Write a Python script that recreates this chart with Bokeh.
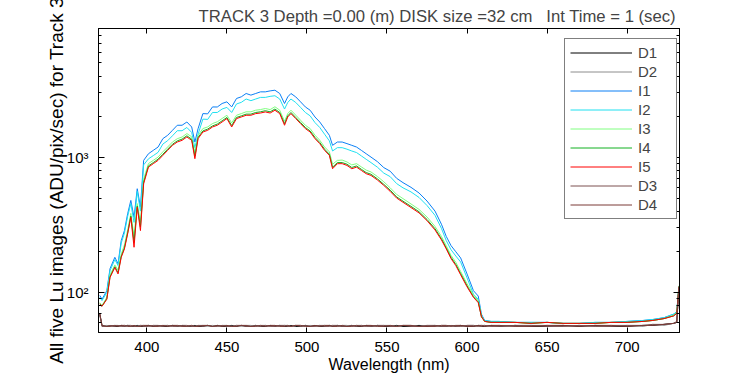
from bokeh.plotting import figure
from bokeh.models import LinearAxis, LogAxis, FixedTicker, Legend, LegendItem, Title
from bokeh.embed import file_html
from bokeh.resources import INLINE

# ---------------- data ----------------
wavelength = [370.6, 372, 375, 377, 380, 382, 384, 386, 388, 390,
              392, 394, 396, 398, 401, 404, 407, 410, 413, 416,
              419, 422, 425, 428, 430, 432, 435, 438, 441, 444,
              447, 450, 453, 456, 459, 462, 465, 468, 471, 474,
              477, 480, 483, 486, 488, 490, 493, 496, 499, 502,
              505, 508, 511, 514, 516, 519, 522, 525, 528, 531,
              534, 537, 540, 544, 548, 552, 556, 560, 565, 570,
              575, 580, 584, 587, 590, 593, 596, 600, 604, 607,
              609, 611, 615, 620, 630, 640, 650, 660, 670, 680,
              690, 700, 710, 716, 723, 729, 731, 732.3]

I1 = [95, 89, 103, 150, 182, 163, 242, 287, 382, 480,
      360, 586, 428, 950, 1064, 1127, 1192, 1376, 1457, 1586,
      1729, 1729, 1828, 1679, 1299, 1633, 2109, 2100, 2363, 2360,
      2506, 2578, 2363, 2730, 2808, 2972, 2890, 2972, 3056, 3056,
      3107, 3143, 2972, 2506, 2805, 2972, 2805, 2578, 2363, 2233,
      1991, 1828, 1633, 1457, 1228, 1299, 1299, 1264, 1228, 1192,
      1127, 1064, 1005, 930, 840, 790, 700, 650, 600, 545,
      475, 400, 320, 260, 222, 200, 180, 137, 103, 94,
      69, 62, 61, 61, 60, 60, 60, 59, 59, 60,
      60, 61, 62, 63, 65, 69, 72, 110]

I2 = [92, 87, 100, 145, 175, 158, 232, 275, 365, 455,
      330, 560, 400, 880, 975, 1030, 1090, 1255, 1330, 1445,
      1575, 1575, 1665, 1530, 1180, 1485, 1920, 1910, 2150, 2150,
      2280, 2345, 2150, 2485, 2555, 2705, 2630, 2705, 2780, 2780,
      2830, 2860, 2705, 2280, 2550, 2705, 2550, 2345, 2150, 2030,
      1810, 1665, 1485, 1325, 1115, 1180, 1180, 1150, 1115, 1085,
      1025, 968, 915, 846, 765, 720, 640, 595, 555, 505,
      440, 372, 298, 242, 207, 186, 168, 128, 97, 89,
      67, 62, 61, 61, 60, 60, 60, 59, 59, 60,
      60, 61, 62, 63, 65, 69, 72, 108]

I3 = [84, 80, 92, 135, 160, 146, 192, 225, 290, 385,
      260, 455, 330, 690, 900, 950, 1005, 1100, 1195, 1300,
      1375, 1415, 1500, 1420, 1080, 1455, 1635, 1680, 1780, 1835,
      1940, 2050, 1800, 2050, 2110, 2175, 2175, 2235, 2260, 2300,
      2260, 2370, 2235, 1850, 2110, 2235, 2055, 1885, 1730, 1635,
      1460, 1340, 1195, 1100, 890, 950, 955, 925, 880, 898,
      850, 805, 780, 722, 660, 595, 532, 495, 452, 412,
      362, 308, 260, 222, 188, 167, 143, 116, 96, 87,
      67, 61, 60, 60, 60, 59, 60, 59, 59, 59,
      60, 60, 61, 62, 64, 68, 71, 112]

I4 = [82, 79, 90, 131, 155, 140, 185, 214, 276, 368,
      235, 437, 305, 655, 865, 915, 970, 1055, 1150, 1250,
      1325, 1365, 1445, 1365, 1020, 1405, 1570, 1620, 1710, 1765,
      1865, 1975, 1720, 1975, 2030, 2090, 2090, 2150, 2175, 2215,
      2175, 2280, 2150, 1775, 2030, 2150, 1975, 1815, 1665, 1570,
      1405, 1290, 1150, 1055, 845, 915, 915, 890, 842, 864,
      816, 772, 750, 694, 632, 572, 510, 474, 434, 396,
      347, 296, 250, 214, 182, 161, 138, 112, 93, 85,
      66, 61, 60, 60, 60, 59, 60, 59, 59, 59,
      60, 60, 61, 62, 64, 67, 70, 110]

I5 = [82, 79, 89, 129, 153, 137, 182, 210, 271, 360,
      216, 428, 287, 638, 847, 898, 950, 1035, 1127, 1228,
      1299, 1337, 1416, 1337, 978, 1376, 1541, 1586, 1679, 1729,
      1828, 1937, 1679, 1937, 1991, 2050, 2050, 2109, 2130, 2170,
      2130, 2233, 2109, 1729, 1991, 2109, 1937, 1778, 1633, 1541,
      1376, 1264, 1127, 1035, 824, 898, 898, 872, 824, 847,
      800, 757, 735, 680, 620, 560, 500, 465, 425, 388,
      340, 290, 245, 210, 178, 158, 135, 110, 92, 84,
      66, 61, 60, 60, 60, 59, 60, 59, 59, 59,
      60, 60, 61, 62, 64, 67, 70, 108]

D1 = [69, 57, 56, 57, 56, 56, 57, 56, 57, 56,
      56, 57, 56, 56, 57, 56, 57, 56, 56, 57,
      56, 57, 56, 56, 57, 56, 56, 57, 56, 57,
      56, 56, 57, 56, 57, 56, 56, 57, 56, 56,
      57, 56, 57, 56, 56, 57, 56, 56, 57, 56,
      57, 56, 56, 57, 56, 57, 56, 56, 57, 56,
      56, 57, 56, 57, 56, 56, 57, 56, 56, 57,
      56, 57, 56, 56, 57, 56, 57, 56, 56, 57,
      56, 56, 57, 56, 57, 56, 56, 57, 56, 57,
      56, 56, 57, 57, 58, 59, 60, 109]

D2 = [68, 56, 57, 56, 57, 57, 56, 57, 56, 56,
      57, 56, 57, 57, 56, 57, 56, 57, 57, 56,
      57, 56, 56, 57, 56, 57, 57, 56, 57, 56,
      57, 57, 56, 57, 56, 57, 57, 56, 57, 57,
      56, 57, 56, 57, 57, 56, 57, 57, 56, 57,
      56, 57, 57, 56, 57, 56, 57, 57, 56, 57,
      57, 56, 57, 56, 57, 57, 56, 57, 57, 56,
      57, 56, 57, 57, 56, 57, 56, 57, 57, 56,
      57, 57, 56, 57, 56, 57, 57, 56, 57, 56,
      57, 57, 56, 58, 57, 59, 60, 108]

D3 = [69, 56, 56, 57, 56, 57, 56, 56, 57, 57,
      56, 56, 57, 56, 56, 57, 57, 56, 57, 56,
      56, 57, 57, 56, 56, 57, 56, 57, 56, 56,
      57, 56, 56, 57, 57, 56, 56, 57, 56, 57,
      56, 56, 57, 57, 56, 56, 57, 56, 57, 56,
      56, 57, 56, 56, 57, 57, 56, 56, 57, 56,
      57, 56, 56, 57, 57, 56, 56, 57, 56, 56,
      57, 57, 56, 56, 57, 56, 56, 57, 57, 56,
      56, 57, 56, 56, 57, 57, 56, 56, 57, 56,
      56, 57, 57, 58, 58, 59, 61, 110]

D4 = [70, 57, 56, 56, 57, 56, 57, 57, 56, 56,
      57, 56, 56, 57, 57, 56, 56, 57, 56, 57,
      57, 56, 56, 57, 56, 56, 57, 57, 56, 57,
      56, 57, 56, 56, 57, 57, 56, 56, 57, 56,
      57, 57, 56, 56, 57, 56, 57, 57, 56, 56,
      57, 56, 57, 57, 56, 56, 57, 56, 56, 57,
      56, 57, 57, 56, 56, 57, 56, 57, 57, 56,
      56, 56, 57, 57, 56, 57, 57, 56, 56, 57,
      57, 56, 57, 57, 56, 56, 57, 57, 56, 57,
      57, 56, 57, 57, 58, 59, 60, 111]

series_names = ["D1", "D2", "I1", "I2", "I3", "I4", "I5", "D3", "D4"]
series_values = [D1, D2, I1, I2, I3, I4, I5, D3, D4]
series_colors = ["#000000", "#8c8c8c", "#0a7ff5", "#1fe0f0", "#80ff80",
                 "#10b020", "#ff0000", "#7d5050", "#7a3a36"]

x_ticks = [400, 450, 500, 550, 600, 650, 700]
y_major = [100, 1000]
y_minor = [60, 70, 80, 90, 200, 300, 400, 500, 600, 700, 800, 900,
           2000, 3000, 4000, 5000, 6000, 7000, 8000, 9000]
y_labels = {100: "10²", 1000: "10³"}

title_text = "TRACK 3 Depth =0.00 (m) DISK size =32 cm\u00a0\u00a0\u00a0Int Time = 1 (sec)"
x_label = "Wavelength (nm)"
y_label = "All five Lu images (ADU/pix/sec) for Track 3"

FONT = "Liberation Sans"

# ---------------- figure ----------------
p = figure(width=750, height=375, x_range=(369.8, 732.7), y_range=(50.5, 9000),
           y_axis_type="log", output_backend="svg", toolbar_location=None,
           min_border_left=98, min_border_right=71, min_border_top=28,
           min_border_bottom=43, background_fill_color="white",
           border_fill_color="white")
p.title = Title(text=title_text, align="left", offset=100, text_font=FONT,
                text_font_size="16.7px", text_font_style="normal", standoff=5)
p.grid.visible = False
p.outline_line_color = "black"
p.outline_line_width = 1

xt = FixedTicker(ticks=x_ticks, minor_ticks=[])
yt = FixedTicker(ticks=y_major, minor_ticks=y_minor)


def style_axis(ax, tick_in, minor_in):
    ax.axis_line_color = "black"
    ax.major_tick_line_color = "black"
    ax.minor_tick_line_color = "black"
    ax.major_tick_in = tick_in
    ax.major_tick_out = 0
    ax.minor_tick_in = minor_in
    ax.minor_tick_out = 0
    ax.major_label_text_font = FONT
    ax.major_label_text_font_size = "15px"
    ax.major_label_text_color = "black"
    ax.axis_label_text_font = FONT
    ax.axis_label_text_font_size = "16px"
    ax.axis_label_text_font_style = "normal"
    ax.axis_label_text_color = "black"


xa = p.xaxis[0]
xa.ticker = xt
style_axis(xa, 5, 0)
xa.axis_label = x_label
xa.major_label_standoff = 9
xa.axis_label_standoff = 1

ya = p.yaxis[0]
ya.ticker = yt
style_axis(ya, 6, 3)
ya.major_label_overrides = y_labels
ya.axis_label = y_label
ya.axis_label_text_font_size = "19px"
ya.major_label_standoff = 10
ya.axis_label_standoff = -3

top = LinearAxis(ticker=xt)
style_axis(top, 5, 0)
top.major_label_text_font_size = "1px"
top.major_label_text_alpha = 0
top.major_label_standoff = 0
p.add_layout(top, "above")

right = LogAxis(ticker=yt)
style_axis(right, 6, 3)
right.major_label_text_font_size = "1px"
right.major_label_text_alpha = 0
right.major_label_standoff = 0
p.add_layout(right, "right")

items = []
for name, vals, col in zip(series_names, series_values, series_colors):
    r = p.line(wavelength, vals, line_color=col, line_width=1)
    items.append(LegendItem(label=name, renderers=[r]))

legend = Legend(items=items, location=(466, 113), label_text_font=FONT,
                label_text_font_size="15px", label_standoff=6, glyph_width=62,
                glyph_height=17, label_height=17, label_width=33, spacing=2,
                padding=5, margin=0, border_line_color="black",
                border_line_width=1, background_fill_alpha=1.0)
p.add_layout(legend, "center")

open("out.html", "w").write(file_html(p, INLINE))
